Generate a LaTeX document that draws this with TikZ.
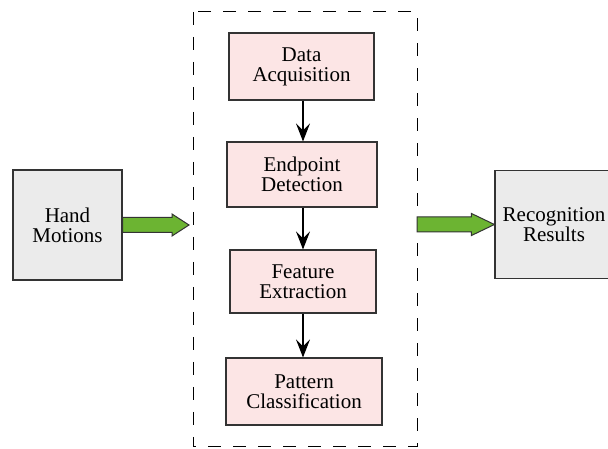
\documentclass[tikz,border=0pt]{standalone}
\usepackage{fontspec}
\setmainfont{Liberation Serif}
\usetikzlibrary{arrows.meta,calc}
\definecolor{stagepink}{RGB}{252,229,229}
\definecolor{iogray}{RGB}{235,235,235}
\definecolor{flowgreen}{RGB}{108,180,50}
\newcommand{\blockarrow}[3]{\draw[color=black!80, fill=flowgreen, line width=1pt] let \p1=#1, \p2=#2 in
	(\x1,\y1+7.5) -- (\x2-#3,\y1+7.5) -- (\x2-#3,\y1+11) -- (\x2,\y1) -- (\x2-#3,\y1-11) -- (\x2-#3,\y1-7.5) -- (\x1,\y1-7.5) -- cycle;}

\begin{document}
\begin{tikzpicture}[x=1pt, y=1pt,
	stage/.style={draw=black!80, line width=1.1pt, fill=stagepink, align=center, inner sep=0pt, font=\fontsize{21}{20}\selectfont},
	io/.style={draw=black!80, line width=1.1pt, fill=iogray, align=center, inner sep=0pt, font=\fontsize{21}{20}\selectfont},
	flow/.style={line width=1.1pt, -{Stealth[length=18pt, width=14pt, inset=7pt]}}]
	\useasboundingbox (0,0) rectangle (608,449);
	\clip (0,0) rectangle (608,449);
	\coordinate (fnw) at (193,437);
	\coordinate (fse) at (417,2);
	\draw[line width=1pt, dash pattern=on 13pt off 12pt] (fnw) rectangle (fse);
	\node[stage, minimum width=145, minimum height=67] (acq) at (301.5,382.5) {Data\\Acquisition};
	\node[stage, minimum width=150, minimum height=65] (endp) at (302,274.5) {Endpoint\\Detection};
	\node[stage, minimum width=146, minimum height=63] (feat) at (303,167.5) {Feature\\Extraction};
	\node[stage, minimum width=156, minimum height=67] (pat) at (304,57.5) {Pattern\\Classification};
	\foreach \a/\b in {acq/endp, endp/feat, feat/pat}
		\draw[flow] (\a.south -| 303,0) -- (\b.north -| 303,0);
	\node[io, minimum width=109, minimum height=110] (hand) at (67.5,224) {Hand\\Motions};
	\node[io, minimum width=118, minimum height=108] (recog) at (554,224.5) {Recognition\\Results};
	\coordinate (inL) at (189,224.5);
	\coordinate (outR) at (417,224.5);
	\blockarrow{(hand.east)}{(inL)}{17}
	\blockarrow{(outR)}{(recog.west)}{23}
\end{tikzpicture}
\end{document}
